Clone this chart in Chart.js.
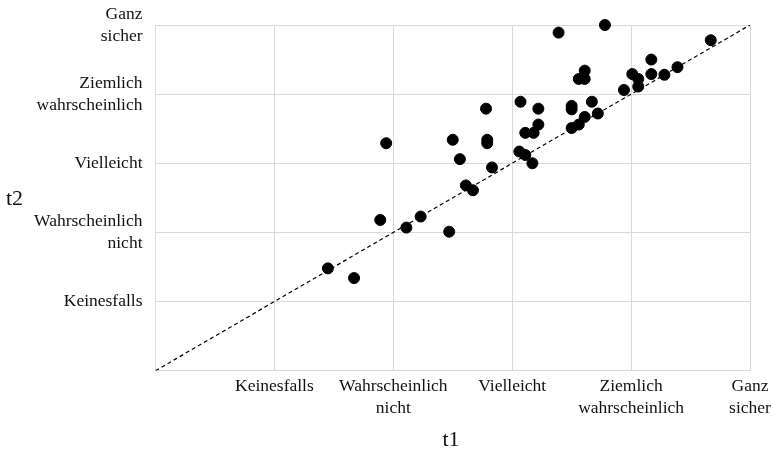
<!DOCTYPE html>
<html>
<head>
<meta charset="utf-8">
<script src="https://cdn.jsdelivr.net/npm/chart.js@4"></script>
<style>
html,body{margin:0;padding:0;background:#fff;}
#wrap{width:773px;height:450px;position:relative;}
</style>
</head>
<body>
<div id="wrap"><canvas id="c" width="773" height="450"></canvas></div>
<script>
const categoryLabels = ['', 'Keinesfalls', 'Wahrscheinlich nicht', 'Vielleicht', 'Ziemlich wahrscheinlich', 'Ganz sicher'];
const t1Values = [1.45,1.67,1.89,1.94,2.11,2.23,2.47,2.50,2.56,2.61,2.67,2.78,2.79,2.79,2.83,3.07,3.06,3.11,3.11,3.18,3.17,3.22,3.22,3.39,3.50,3.50,3.50,3.56,3.56,3.61,3.61,3.61,3.67,3.72,3.78,3.94,4.01,4.06,4.06,4.17,4.17,4.28,4.39,4.67];
const t2Values = [1.48,1.34,2.18,3.29,2.07,2.23,2.01,3.34,3.06,2.68,2.61,3.79,3.34,3.29,2.94,3.89,3.17,3.44,3.12,3.44,3.00,3.79,3.56,4.89,3.83,3.78,3.51,4.22,3.56,4.34,4.22,3.67,3.89,3.72,5.00,4.06,4.29,4.22,4.11,4.50,4.29,4.28,4.39,4.78];
const diagonal = [{x:0,y:0},{x:5,y:5}];

const points = t1Values.map((v,i)=>({x:v,y:t2Values[i]}));

function splitLabel(s){
  if(s==='Wahrscheinlich nicht') return ['Wahrscheinlich','nicht'];
  if(s==='Ziemlich wahrscheinlich') return ['Ziemlich','wahrscheinlich'];
  if(s==='Ganz sicher') return ['Ganz','sicher'];
  return s;
}

const fontFam = '"Liberation Serif", "Times New Roman", serif';

const titlePlugin = {
  id:'titles',
  afterDraw(chart){
    const ctx = chart.ctx;
    const ca = chart.chartArea;
    ctx.save();
    ctx.fillStyle = '#111';
    ctx.font = '22px ' + fontFam;
    ctx.textBaseline = 'middle';
    ctx.textAlign = 'left';
    ctx.fillText('t2', 6, 199);
    ctx.textAlign = 'center';
    ctx.fillText('t1', 451, 440);
    ctx.restore();
  }
};

new Chart(document.getElementById('c'), {
  type:'scatter',
  data:{
    datasets:[
      {
        label:'data',
        data:points,
        backgroundColor:'#000',
        borderColor:'#000',
        pointRadius:5.5,
        pointHoverRadius:5.5,
        clip:false,
        order:1
      },
      {
        label:'diag',
        data:diagonal,
        showLine:true,
        borderColor:'#000',
        borderWidth:1.2,
        borderDash:[4,3],
        pointRadius:0,
        fill:false,
        order:2
      }
    ]
  },
  options:{
    responsive:false,
    animation:false,
    events:[],
    layout:{padding:{left:0,top:25,right:23,bottom:0}},
    plugins:{legend:{display:false},tooltip:{enabled:false}},
    scales:{
      x:{
        type:'linear',
        min:0,max:5,
        afterFit(s){ s.height = 79.3; s.paddingLeft = 0; s.paddingRight = 0; },
        ticks:{
          stepSize:1,
          maxRotation:0,
          autoSkip:false,
          padding:5,
          color:'#111',
          font:{family:fontFam,size:17.5,lineHeight:1.25},
          callback:(v)=>splitLabel(categoryLabels[v] || '')
        },
        grid:{color:'#d9d9d9',drawTicks:false,lineWidth:1},
        border:{color:'#d9d9d9'}
      },
      y:{
        type:'linear',
        min:0,max:5,
        afterFit(s){ s.width = 155.5; s.paddingTop = 0; s.paddingBottom = 0; },
        ticks:{
          stepSize:1,
          autoSkip:false,
          padding:13,
          color:'#111',
          font:{family:fontFam,size:17.5,lineHeight:1.25},
          callback:(v)=>splitLabel(categoryLabels[v] || '')
        },
        grid:{color:'#d9d9d9',drawTicks:false,lineWidth:1},
        border:{color:'#d9d9d9'}
      }
    }
  },
  plugins:[titlePlugin]
});
</script>
</body>
</html>
